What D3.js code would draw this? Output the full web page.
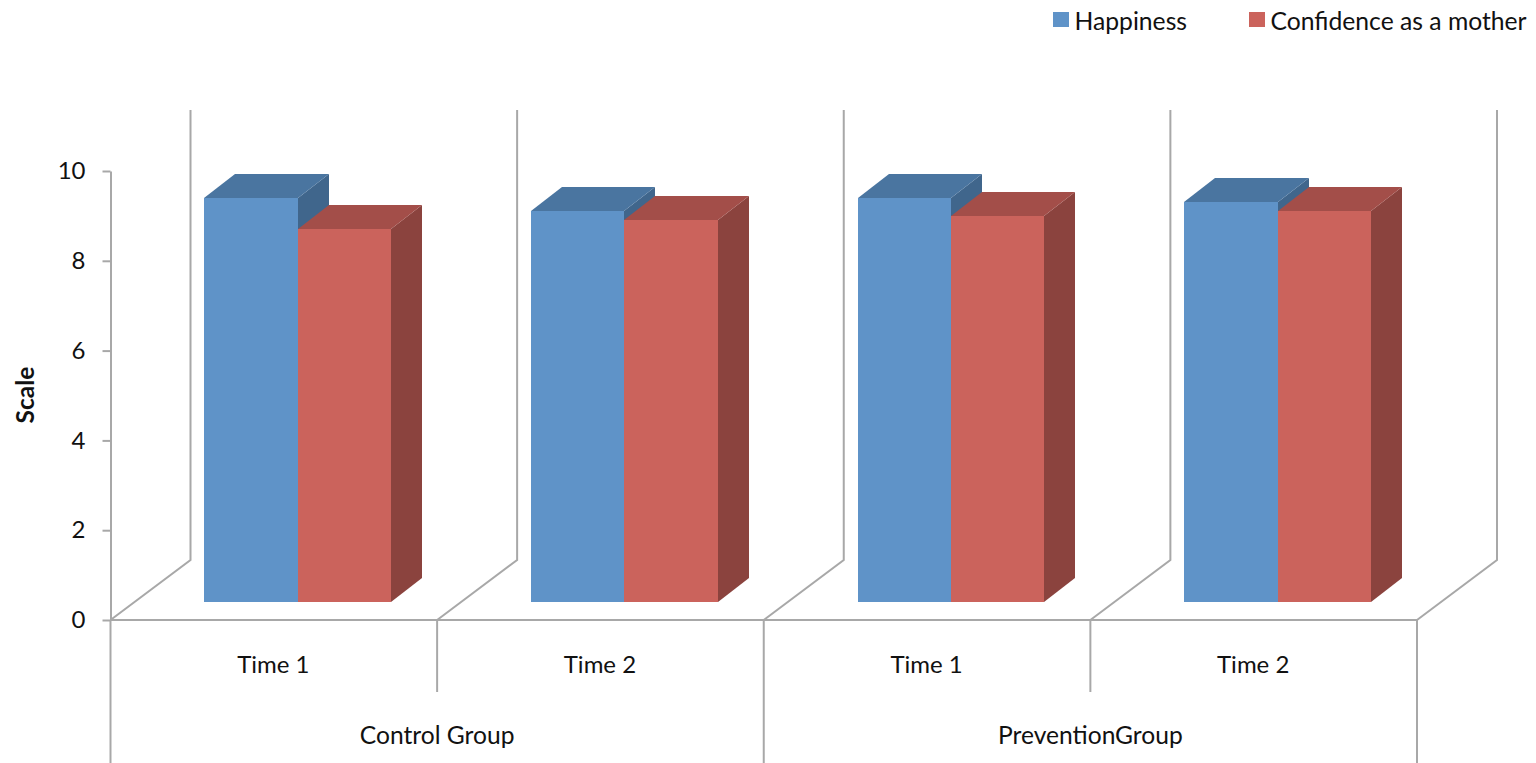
<!DOCTYPE html>
<html>
<head>
<meta charset="utf-8">
<script src="https://cdn.jsdelivr.net/npm/d3@7/dist/d3.min.js"></script>
<style>
  html, body { margin: 0; padding: 0; background: #fff; overflow: hidden; }
  text { font-family: Lato, "Open Sans", sans-serif; fill: #111; }
</style>
</head>
<body>
<svg id="chart" width="1536" height="763"></svg>
<script>
// Survey scores per measurement
const groups = ["Control Group", "PreventionGroup"];
const times = ["Time 1", "Time 2", "Time 1", "Time 2"];
const seriesNames = ["Happiness", "Confidence as a mother"];
const happiness = [9.0, 8.7, 9.0, 8.9];
const confidence = [8.3, 8.5, 8.6, 8.7];
const yTicks = [0, 2, 4, 6, 8, 10];

const frontColors = ["#5f93c8", "#cb635c"];
const topColors = ["#4a75a0", "#a34e49"];
const sideColors = ["#40668c", "#8b433e"];
const gridColor = "#a8a8a8";

const svg = d3.select("#chart");

// Front-plane axis geometry and the oblique projection of the 3D floor
const axisLeft = 110.5, axisRight = 1417, axisBase = 620, axisTop = 171;
const wallDx = 80, wallDy = -60;      // depth of the floor
const wallTop = 110;
const barDx = 31, barDy = -24;        // depth of one bar
const barLift = 18;                   // bars stand on the floor, above the axis line

const y = d3.scaleLinear().domain([0, 10]).range([axisBase, axisTop]);
const x = d3.scaleBand().domain(d3.range(times.length)).range([axisLeft, axisRight]);
const inner = d3.scaleBand().domain([0, 1])
  .range([x.bandwidth() * 0.2875, x.bandwidth() * 0.8595]);

const line = (x1, y1, x2, y2) => svg.append("line")
  .attr("x1", x1).attr("y1", y1).attr("x2", x2).attr("y2", y2)
  .attr("stroke", gridColor).attr("stroke-width", 2);

// Back walls and floor diagonals
const boundaries = d3.range(times.length + 1).map(i =>
  i < times.length ? x(i) : axisRight);
boundaries.forEach(bx => {
  svg.append("path")
    .attr("d", d3.line()([
      [bx, axisBase],
      [bx + wallDx, axisBase + wallDy],
      [bx + wallDx, wallTop]
    ]))
    .attr("fill", "none")
    .attr("stroke", gridColor)
    .attr("stroke-width", 2);
});

// Value axis
const yAxis = svg.append("g")
  .attr("transform", `translate(${axisLeft},0)`)
  .call(d3.axisLeft(y).tickValues(yTicks).tickSize(8).tickPadding(17).tickSizeOuter(0));
yAxis.select(".domain").attr("stroke", gridColor).attr("stroke-width", 2);
yAxis.selectAll(".tick line").attr("stroke", gridColor).attr("stroke-width", 2);
yAxis.selectAll(".tick text")
  .style("font-family", "Lato, 'Open Sans', sans-serif")
  .style("font-size", "24px")
  .attr("dy", "0.32em")
  .attr("fill", "#111");

// Category axis baseline and multi-level separators
line(axisLeft, axisBase, axisRight, axisBase);
boundaries.forEach((bx, i) => {
  line(bx, axisBase, bx, i % 2 === 0 ? 763 : 692);
});

// One 3D bar: side face, top face, front face, snapped to whole pixels so faces share clean edges
function drawBar(groupIndex, seriesIndex, value) {
  const x0 = Math.round(x(groupIndex) + inner(seriesIndex));
  const x1 = Math.round(x(groupIndex) + inner(seriesIndex) + inner.bandwidth());
  const yBase = axisBase - barLift;
  const yTop = Math.round(yBase - (axisBase - y(value)));
  const g = svg.append("g").attr("class", "bar");
  const poly = (points, color) => g.append("polygon")
    .attr("points", points.map(p => p.join(",")).join(" "))
    .attr("fill", color);
  poly([[x1, yTop], [x1 + barDx, yTop + barDy], [x1 + barDx, yBase + barDy], [x1, yBase]], sideColors[seriesIndex]);
  poly([[x0, yTop], [x0 + barDx, yTop + barDy], [x1 + barDx, yTop + barDy], [x1, yTop]], topColors[seriesIndex]);
  poly([[x0, yTop], [x1, yTop], [x1, yBase], [x0, yBase]], frontColors[seriesIndex])
    .attr("shape-rendering", "crispEdges");
}
times.forEach((_, i) => {
  drawBar(i, 0, happiness[i]);
  drawBar(i, 1, confidence[i]);
});

// Category labels
times.forEach((t, i) => {
  svg.append("text")
    .attr("x", x(i) + x.bandwidth() / 2 - 0.5).attr("y", 672.5)
    .attr("text-anchor", "middle")
    .attr("font-size", 24)
    .text(t);
});
groups.forEach((g, i) => {
  svg.append("text")
    .attr("x", x(i * 2) + x.bandwidth()).attr("y", 743.5)
    .attr("text-anchor", "middle")
    .attr("font-size", 24.6)
    .text(g);
});

// Value axis title
svg.append("text")
  .attr("transform", "translate(34,395) rotate(-90)")
  .attr("text-anchor", "middle")
  .attr("font-size", 24.5)
  .attr("font-weight", 700)
  .text("Scale");

// Legend
const legendX = [1053, 1249];
seriesNames.forEach((name, i) => {
  svg.append("rect")
    .attr("x", legendX[i]).attr("y", 12)
    .attr("width", 16).attr("height", 15)
    .attr("fill", frontColors[i]);
  svg.append("text")
    .attr("x", legendX[i] + 21.5).attr("y", 29.5)
    .attr("font-size", 24.7)
    .text(name);
});
</script>
</body>
</html>
